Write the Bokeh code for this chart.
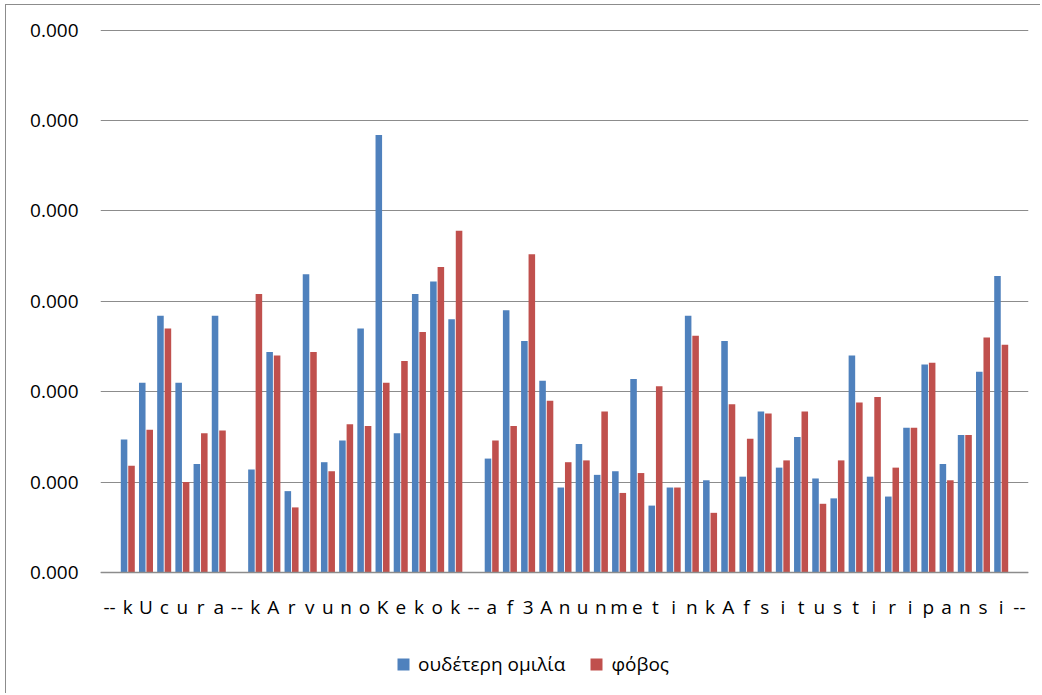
from bokeh.plotting import figure
from bokeh.models import ColumnDataSource, FixedTicker, NumeralTickFormatter, Legend, LegendItem, Range1d
from bokeh.transform import dodge
from bokeh.embed import file_html
from bokeh.resources import INLINE

labels = ["--", "k", "U", "c", "u", "r", "a", "--",
          "k", "A", "r", "v", "u", "n", "o", "K", "e", "k", "o", "k", "--",
          "a", "f", "3", "A", "n", "u", "n", "m", "e", "t", "i", "n", "k", "A", "f",
          "s", "i", "t", "u", "s", "t", "i", "r", "i", "p", "a", "n", "s", "i", "--"]

neutral = [0.0, 7.35e-05, 10.5e-05, 14.2e-05, 10.5e-05, 6.0e-05, 14.2e-05, 0.0,
           5.7e-05, 12.2e-05, 4.5e-05, 16.5e-05, 6.1e-05, 7.3e-05, 13.5e-05, 24.2e-05,
           7.7e-05, 15.4e-05, 16.1e-05, 14.0e-05, 0.0,
           6.3e-05, 14.5e-05, 12.8e-05, 10.6e-05, 4.7e-05, 7.1e-05, 5.4e-05, 5.6e-05,
           10.7e-05, 3.7e-05, 4.7e-05, 14.2e-05, 5.1e-05, 12.8e-05, 5.3e-05, 8.9e-05,
           5.8e-05, 7.5e-05, 5.2e-05, 4.1e-05, 12.0e-05, 5.3e-05, 4.2e-05, 8.0e-05,
           11.5e-05, 6.0e-05, 7.6e-05, 11.1e-05, 16.4e-05, 0.0]

fear = [0.0, 5.9e-05, 7.9e-05, 13.5e-05, 5.0e-05, 7.7e-05, 7.85e-05, 0.0,
        15.4e-05, 12.0e-05, 3.6e-05, 12.2e-05, 5.6e-05, 8.2e-05, 8.1e-05, 10.5e-05,
        11.7e-05, 13.3e-05, 16.9e-05, 18.9e-05, 0.0,
        7.3e-05, 8.1e-05, 17.6e-05, 9.5e-05, 6.1e-05, 6.2e-05, 8.9e-05, 4.4e-05,
        5.5e-05, 10.3e-05, 4.7e-05, 13.1e-05, 3.3e-05, 9.3e-05, 7.4e-05, 8.8e-05,
        6.2e-05, 8.9e-05, 3.8e-05, 6.2e-05, 9.4e-05, 9.7e-05, 5.8e-05, 8.0e-05,
        11.6e-05, 5.1e-05, 7.6e-05, 13.0e-05, 12.6e-05, 0.0]

y_ticks = [0, 5e-05, 1e-04, 1.5e-04, 2e-04, 2.5e-04, 3e-04]
series_names = ["ουδέτερη ομιλία", "φόβος"]
colors = ["#4F81BD", "#C0504D"]

FONT = "Open Sans"

# layout (pixels): frame spans the value axis (543 px) plus room below for labels and legend
W, H = 1035, 689
TOP, BOTTOM, LEFT, RIGHT = 24, 0, 94, 13
frame_h = H - TOP - BOTTOM
axis_px = 543
y_end = y_ticks[-1] * 1.001
y_start = -y_end * (frame_h - axis_px) / axis_px

x = list(range(len(labels)))
source = ColumnDataSource(dict(x=x, neutral=neutral, fear=fear))

p = figure(width=W, height=H,
           x_range=Range1d(-0.5, len(labels) - 0.5),
           y_range=Range1d(y_start, y_end),
           output_backend="svg", toolbar_location=None,
           min_border_left=LEFT, min_border_right=RIGHT,
           min_border_top=TOP, min_border_bottom=BOTTOM)
p.margin = (4, 0, 0, 5)
p.styles = {"border-left": "1px solid #8c8c8c", "border-top": "1px solid #8c8c8c"}

p.vbar(x=dodge("x", -0.205, range=p.x_range), top="neutral", width=0.36,
       source=source, fill_color=colors[0], line_color=None)
p.vbar(x=dodge("x", 0.205, range=p.x_range), top="fear", width=0.36,
       source=source, fill_color=colors[1], line_color=None)

# hidden square-marker renderers of the same series, used only as legend swatches
k1 = p.scatter(x="x", y="neutral", source=source, marker="square", size=12,
               fill_color=colors[0], line_color=None, visible=False)
k2 = p.scatter(x="x", y="fear", source=source, marker="square", size=12,
               fill_color=colors[1], line_color=None, visible=False)

p.outline_line_color = None
p.xgrid.visible = False
p.ygrid.grid_line_color = "#8c8c8c"
p.ygrid.grid_line_width = 1
p.ygrid.ticker = FixedTicker(ticks=y_ticks)

p.yaxis.ticker = FixedTicker(ticks=y_ticks)
p.yaxis.formatter = NumeralTickFormatter(format="0.000")
p.yaxis.axis_line_color = None
p.yaxis.major_tick_line_color = None
p.yaxis.minor_tick_line_color = None
p.yaxis.major_label_standoff = 16
p.yaxis.major_label_text_font = FONT
p.yaxis.major_label_text_font_size = "19px"
p.yaxis.major_label_text_color = "#000000"

p.xaxis.fixed_location = 0
p.xaxis.ticker = FixedTicker(ticks=x)
p.xaxis.major_label_overrides = {i: lab for i, lab in enumerate(labels)}
p.xaxis.axis_line_color = "#8c8c8c"
p.xaxis.axis_line_width = 1.5
p.xaxis.major_tick_line_color = None
p.xaxis.minor_tick_line_color = None
p.xaxis.major_label_standoff = 15
p.xaxis.major_label_text_font = FONT
p.xaxis.major_label_text_font_size = "19px"
p.xaxis.major_label_text_color = "#000000"

legend = Legend(items=[LegendItem(label=series_names[0], renderers=[k1]),
                       LegendItem(label=series_names[1], renderers=[k2])],
                orientation="horizontal", location=(288, 15),
                border_line_color=None, background_fill_alpha=0,
                padding=0, margin=0, spacing=16,
                glyph_width=30, glyph_height=30, label_standoff=0,
                label_text_font=FONT, label_text_font_size="19px",
                label_text_color="#000000")
p.add_layout(legend, "center")

open("out.html", "w").write(file_html(p, INLINE))
